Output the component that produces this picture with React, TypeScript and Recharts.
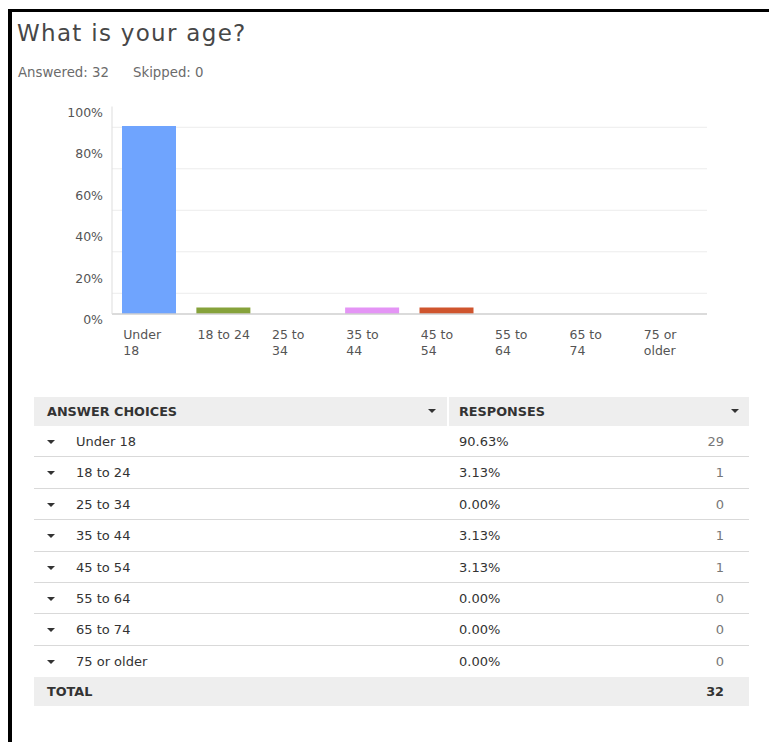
import React from "react";
import { BarChart, Bar, XAxis, YAxis, CartesianGrid, Cell } from "recharts";

// ─── Data ─────────────────────────────────────────────────────────────────────

const categories = [
  "Under 18",
  "18 to 24",
  "25 to 34",
  "35 to 44",
  "45 to 54",
  "55 to 64",
  "65 to 74",
  "75 or older",
];

// how the x tick labels wrap under each bar
const tickLines = [
  ["Under", "18"],
  ["18 to 24"],
  ["25 to", "34"],
  ["35 to", "44"],
  ["45 to", "54"],
  ["55 to", "64"],
  ["65 to", "74"],
  ["75 or", "older"],
];

const percents = [90.63, 3.13, 0, 3.13, 3.13, 0, 0, 0];
const counts = [29, 1, 0, 1, 1, 0, 0, 0];

const barColors = [
  "#6fa4fe",
  "#86a23b",
  "#f2b544",
  "#e494f5",
  "#cf552e",
  "#6fc9d0",
  "#a07ad8",
  "#f28a6b",
];

const yTicks = [0, 10, 20, 30, 40, 50, 60, 70, 80, 90, 100];
const gridValues = [10, 20, 30, 40, 50, 60, 70, 80, 90];

const FONT = "'DejaVu Sans', Verdana, sans-serif";

const chartData = categories.map((name, i) => ({ name, value: percents[i] }));

// ─── Ticks ────────────────────────────────────────────────────────────────────

const XTick = ({ x, y, payload }: any) => {
  const idx = categories.indexOf(payload.value);
  const lines = tickLines[idx] || [payload.value];
  const left = x - 26;
  return (
    <text x={left} y={y} fontSize={12.5} fill="#555" fontFamily={FONT} textAnchor="start">
      {lines.map((line, i) => (
        <tspan key={i} x={left} dy={i === 0 ? 25 : 16}>
          {line}
        </tspan>
      ))}
    </text>
  );
};

const YTick = ({ x, y, payload }: any) => {
  if (payload.value % 20 !== 0) return null;
  return (
    <text x={x} y={y + 10} fontSize={12.5} fill="#555" fontFamily={FONT} textAnchor="end">
      {payload.value}%
    </text>
  );
};

// ─── Table pieces ─────────────────────────────────────────────────────────────

const Caret = ({ left, top }: { left: number; top: number }) => (
  <div
    style={{
      position: "absolute",
      left,
      top,
      width: 0,
      height: 0,
      borderLeft: "4px solid transparent",
      borderRight: "4px solid transparent",
      borderTop: "4px solid #333",
    }}
  />
);

const ROW_TOP = 426;
const ROW_H = 31.4;

// ─── Component ────────────────────────────────────────────────────────────────

export default function App() {
  const total = counts.reduce((a, b) => a + b, 0);

  return (
    <div
      style={{
        position: "absolute",
        left: 0,
        top: 0,
        width: 769,
        height: 742,
        overflow: "hidden",
        background: "#fff",
        fontFamily: FONT,
        color: "#333",
      }}
    >
      {/* frame: top and left edges only */}
      <div
        style={{
          position: "absolute",
          left: 8,
          top: 9,
          width: 761,
          height: 733,
          boxSizing: "border-box",
          borderTop: "3px solid #000",
          borderLeft: "4px solid #000",
        }}
      />

      <div
        style={{
          position: "absolute",
          left: 17,
          top: 20,
          fontSize: 23,
          letterSpacing: 1.3,
          lineHeight: "27px",
          color: "#474747",
          whiteSpace: "nowrap",
        }}
      >
        What is your age?
      </div>
      <div style={{ position: "absolute", left: 18, top: 65, fontSize: 13.3, lineHeight: "16px", color: "#6b6b6b" }}>
        Answered: 32
      </div>
      <div style={{ position: "absolute", left: 133, top: 65, fontSize: 13.3, lineHeight: "16px", color: "#6b6b6b" }}>
        Skipped: 0
      </div>

      <div style={{ position: "absolute", left: 40, top: 95 }}>
        <BarChart
          width={690}
          height={280}
          data={chartData}
          margin={{ top: 11.5, right: 23, left: 0, bottom: 0 }}
          barSize={54}
        >
          <CartesianGrid vertical={false} horizontalValues={gridValues} stroke="#ececec" />
          <XAxis
            dataKey="name"
            interval={0}
            height={61}
            tickSize={0}
            tickMargin={0}
            tick={<XTick />}
            axisLine={{ stroke: "#cfcfcf", strokeWidth: 1.5 }}
            tickLine={false}
          />
          <YAxis
            domain={[0, 100]}
            ticks={yTicks}
            width={72}
            tickSize={0}
            tickMargin={9}
            tick={<YTick />}
            axisLine={{ stroke: "#dddddd" }}
            tickLine={false}
          />
          <Bar dataKey="value" isAnimationActive={false}>
            {chartData.map((d, i) => (
              <Cell key={d.name} fill={barColors[i]} />
            ))}
          </Bar>
        </BarChart>
      </div>

      {/* table header */}
      <div style={{ position: "absolute", left: 34, top: 397, width: 413, height: 29, background: "#eeeeee" }} />
      <div style={{ position: "absolute", left: 449, top: 397, width: 300, height: 29, background: "#eeeeee" }} />
      <div style={{ position: "absolute", left: 47, top: 403, fontSize: 12.8, fontWeight: 700, lineHeight: "17px" }}>
        ANSWER CHOICES
      </div>
      <Caret left={428} top={409} />
      <div style={{ position: "absolute", left: 459, top: 403, fontSize: 12.8, fontWeight: 700, lineHeight: "17px" }}>
        RESPONSES
      </div>
      <Caret left={731} top={409} />

      {categories.map((c, i) => {
        const top = ROW_TOP + i * ROW_H;
        return (
          <React.Fragment key={c}>
            {i > 0 && (
              <div style={{ position: "absolute", left: 34, top: top - 1, width: 715, height: 1, background: "#d9d9d9" }} />
            )}
            <Caret left={47} top={top + 14} />
            <div style={{ position: "absolute", left: 76, top: top + 7, fontSize: 13, lineHeight: "18px", color: "#333" }}>
              {c}
            </div>
            <div style={{ position: "absolute", left: 459, top: top + 7, fontSize: 13, lineHeight: "18px", color: "#333" }}>
              {percents[i].toFixed(2)}%
            </div>
            <div
              style={{
                position: "absolute",
                right: 769 - 724,
                top: top + 7,
                fontSize: 13,
                lineHeight: "18px",
                color: "#777",
              }}
            >
              {counts[i]}
            </div>
          </React.Fragment>
        );
      })}

      {/* total row */}
      <div style={{ position: "absolute", left: 34, top: 677, width: 715, height: 29, background: "#eeeeee" }} />
      <div style={{ position: "absolute", left: 47, top: 683, fontSize: 12.8, fontWeight: 700, lineHeight: "17px" }}>
        TOTAL
      </div>
      <div
        style={{
          position: "absolute",
          right: 769 - 724,
          top: 683,
          fontSize: 12.8,
          fontWeight: 700,
          lineHeight: "17px",
        }}
      >
        {total}
      </div>
    </div>
  );
}
